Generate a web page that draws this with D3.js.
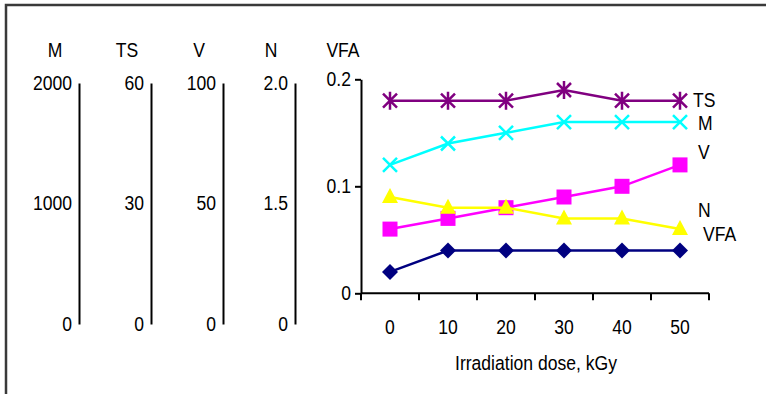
<!DOCTYPE html>
<html>
<head>
<meta charset="utf-8">
<script src="https://cdn.jsdelivr.net/npm/d3@7"></script>
<style>
  body { margin: 0; background: #fff; }
  text { font-family: "Liberation Sans Narrow", "Arial Narrow", "Liberation Sans", sans-serif; font-size: 19.5px; fill: #000; }
</style>
</head>
<body>
<svg id="chart" width="766" height="394"></svg>
<script>
// Irradiation doses (x categories)
const doses = [0, 10, 20, 30, 40, 50];

// Series values, all read on the VFA scale of the plot
const tsVals  = [0.18, 0.18, 0.18, 0.19, 0.18, 0.18];
const mVals   = [0.12, 0.14, 0.15, 0.16, 0.16, 0.16];
const vVals   = [0.06, 0.07, 0.08, 0.09, 0.10, 0.12];
const nVals   = [0.09, 0.08, 0.08, 0.07, 0.07, 0.06];
const vfaVals = [0.02, 0.04, 0.04, 0.04, 0.04, 0.04];

// Extra axes on the left side
const axisNames = ["M", "TS", "V", "N"];
const axisMax   = [2000, 60, 100, 2.0];
const axisTicks = [["0", "1000", "2000"], ["0", "30", "60"], ["0", "50", "100"], ["0", "1.5", "2.0"]];
const vfaTicks  = [0, 0.1, 0.2];

const svg = d3.select("#chart");

// outer frame
svg.append("rect")
  .attr("x", 6).attr("y", 5)
  .attr("width", 800).attr("height", 420)
  .attr("fill", "none")
  .attr("stroke", "#3a3a3a")
  .attr("stroke-width", 2.5);

// Left axes
const axisX = [79, 151, 223, 295];
axisNames.forEach((name, i) => {
  let y = d3.scaleLinear().domain([0, axisMax[i]]).range([324, 83]);
  let vals = [0, axisMax[i] / 2, axisMax[i]];
  let g = svg.append("g").attr("transform", "translate(" + axisX[i] + ",0)");
  g.call(d3.axisLeft(y).tickValues(vals).tickSize(0).tickPadding(7)
      .tickFormat((d, j) => axisTicks[i][j]));
  g.select(".domain").attr("stroke", "#000").attr("stroke-width", 2);
  g.selectAll(".tick text").attr("font-size", null).attr("font-family", null);
  svg.append("text")
    .attr("x", axisX[i] - 24).attr("y", 50)
    .attr("dy", "0.35em")
    .attr("text-anchor", "middle")
    .text(name);
});

// Main plot
const x = d3.scaleBand().domain(doses).range([361, 709]).padding(0);
const y = d3.scaleLinear().domain([0, 0.2]).range([293.3, 79.3]);
const cx = d => x(d) + x.bandwidth() / 2;

svg.append("text")
  .attr("x", 343).attr("y", 50).attr("dy", "0.35em")
  .attr("text-anchor", "middle").text("VFA");

let gy = svg.append("g").attr("transform", "translate(361,0)");
gy.call(d3.axisLeft(y).tickValues(vfaTicks).tickSize(6).tickSizeOuter(0).tickPadding(4)
    .tickFormat(d => d === 0 ? "0" : d3.format(".1f")(d)));
gy.selectAll("path, line").attr("stroke", "#000").attr("stroke-width", 2);
gy.selectAll(".tick text").attr("font-size", null).attr("font-family", null);

// x axis: ticks on the band edges, labels in the middle
let gx = svg.append("g").attr("transform", "translate(0," + y(0) + ")");
gx.append("line")
  .attr("x1", x.range()[0]).attr("x2", x.range()[1])
  .attr("stroke", "#000").attr("stroke-width", 2);
gx.selectAll("line.tk")
  .data(doses.map(d => x(d)).concat([x.range()[1]]))
  .join("line").attr("class", "tk")
  .attr("x1", d => d).attr("x2", d => d)
  .attr("y1", 0).attr("y2", 7)
  .attr("stroke", "#000").attr("stroke-width", 2);
gx.selectAll("text")
  .data(doses)
  .join("text")
  .attr("x", d => cx(d)).attr("y", 34).attr("dy", "0.35em")
  .attr("text-anchor", "middle")
  .text(d => d);

svg.append("text")
  .attr("x", 536).attr("y", 363).attr("dy", "0.35em")
  .attr("text-anchor", "middle")
  .text("Irradiation dose, kGy");

// Series
const series = [
  { name: "TS",  vals: tsVals,  color: "#800080", marker: "star" },
  { name: "M",   vals: mVals,   color: "#00ffff", marker: "cross" },
  { name: "V",   vals: vVals,   color: "#ff00ff", marker: "square" },
  { name: "N",   vals: nVals,   color: "#ffff00", marker: "triangle" },
  { name: "VFA", vals: vfaVals, color: "#000080", marker: "diamond" }
];

const line = d3.line().x(d => cx(d[0])).y(d => y(d[1]));

series.forEach(s => {
  let pts = doses.map((d, i) => [d, s.vals[i]]);
  svg.append("path")
    .attr("d", line(pts))
    .attr("fill", "none")
    .attr("stroke", s.color)
    .attr("stroke-width", 2.5);

  let g = svg.append("g");
  pts.forEach(p => {
    let px = cx(p[0]), py = y(p[1]);
    let m = g.append("g").attr("transform", "translate(" + px + "," + py + ")");
    if (s.marker == "square") {
      m.append("rect").attr("x", -7.5).attr("y", -7.5).attr("width", 15).attr("height", 15).attr("fill", s.color);
    } else if (s.marker == "diamond") {
      m.append("path").attr("d", "M0,-8L8,0L0,8L-8,0Z").attr("fill", s.color);
    } else if (s.marker == "triangle") {
      m.append("path").attr("d", "M0,-9L8,6L-8,6Z").attr("fill", s.color);
    } else if (s.marker == "cross") {
      m.append("path").attr("d", "M-7,-7L7,7M-7,7L7,-7").attr("stroke", s.color).attr("stroke-width", 2.5);
    } else {
      m.append("path").attr("d", "M-7,-7L7,7M-7,7L7,-7M0,-9L0,9").attr("stroke", s.color).attr("stroke-width", 2.5);
    }
  });
});

// Series labels at the right end
const labelPos = [[693, 100], [698, 123], [698, 152], [698, 210], [703, 234]];
series.forEach((s, i) => {
  svg.append("text")
    .attr("x", labelPos[i][0]).attr("y", labelPos[i][1]).attr("dy", "0.35em")
    .text(s.name);
});

// The original font is a condensed one: squeeze every text around its anchor
svg.selectAll("text").each(function() {
  let tx = +d3.select(this).attr("x") || 0;
  d3.select(this).attr("transform", "translate(" + tx + ",0) scale(0.9,1) translate(" + (-tx) + ",0)");
});
</script>
</body>
</html>
